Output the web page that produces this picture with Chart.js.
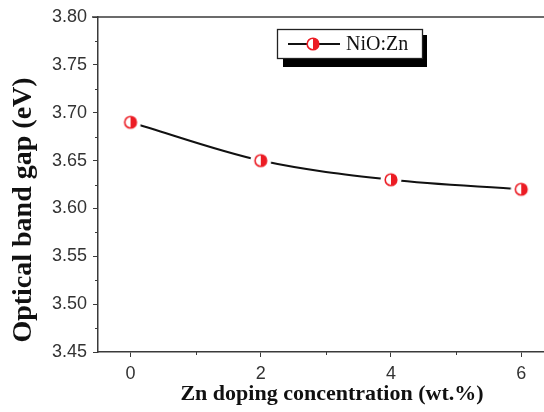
<!DOCTYPE html>
<html><head><meta charset="utf-8">
<script src="https://cdn.jsdelivr.net/npm/chart.js@4/dist/chart.umd.min.js"></script>
<style>html,body{margin:0;padding:0;background:#fff;overflow:hidden}canvas{display:block}</style>
</head><body>
<canvas id="c" width="544" height="412"></canvas>
<script>
const concentrations = [0, 2, 4, 6];
const bandGap = [3.69, 3.65, 3.63, 3.62];
const seriesLabel = 'NiO:Zn';
const xTicks = [0, 2, 4, 6];
const xMinorTicks = [1, 3, 5];
const yTicks = [3.45, 3.50, 3.55, 3.60, 3.65, 3.70, 3.75, 3.80];
const yMinorTicks = [3.475, 3.525, 3.575, 3.625, 3.675, 3.725, 3.775];
const xTitle = 'Zn doping concentration (wt.%)';
const yTitle = 'Optical band gap (eV)';

const RED = '#ec1c24';
const AXIS = '#3a3a3a';

function makeMarker(gap) {
  const s = gap ? 22 : 16;
  const c = document.createElement('canvas');
  c.width = s; c.height = s;
  const g = c.getContext('2d');
  const m = s / 2, r = 5.8;
  if (gap) { g.fillStyle = '#fff'; g.beginPath(); g.arc(m, m, 10.5, 0, Math.PI * 2); g.fill(); }
  g.fillStyle = '#fff'; g.beginPath(); g.arc(m, m, r, 0, Math.PI * 2); g.fill();
  g.fillStyle = RED; g.beginPath(); g.arc(m, m, r, -Math.PI / 2, Math.PI / 2); g.closePath(); g.fill();
  g.strokeStyle = RED; g.lineWidth = 1.6; g.beginPath(); g.arc(m, m, r, 0, Math.PI * 2); g.stroke();
  return c;
}
const markerGap = makeMarker(true);
const markerLegend = makeMarker(false);

const decor = {
  id: 'decor',
  afterDraw(chart) {
    const ctx = chart.ctx, a = chart.chartArea;
    const xs = chart.scales.x, ys = chart.scales.y;
    ctx.save();
    ctx.strokeStyle = AXIS; ctx.lineWidth = 1.5;
    ctx.beginPath(); ctx.moveTo(a.left - 6, a.top); ctx.lineTo(a.right, a.top); ctx.stroke();
    ctx.lineWidth = 1;
    yMinorTicks.forEach(v => {
      const y = Math.round(ys.getPixelForValue(v)) + 0.5;
      ctx.beginPath(); ctx.moveTo(a.left - 3, y); ctx.lineTo(a.left, y); ctx.stroke();
    });
    xMinorTicks.forEach(v => {
      const x = Math.round(xs.getPixelForValue(v)) + 0.5;
      ctx.beginPath(); ctx.moveTo(x, a.bottom); ctx.lineTo(x, a.bottom + 3); ctx.stroke();
    });
    ctx.fillStyle = '#111';
    ctx.font = 'bold 22px "Liberation Serif", "Times New Roman", serif';
    ctx.textAlign = 'center'; ctx.textBaseline = 'alphabetic';
    ctx.fillText(xTitle, 332, 400);
    ctx.save();
    ctx.translate(31, 210); ctx.rotate(-Math.PI / 2);
    ctx.font = 'bold 28px "Liberation Serif", "Times New Roman", serif';
    ctx.fillText(yTitle, 0, 0);
    ctx.restore();
    ctx.fillStyle = '#000';
    ctx.fillRect(283, 35, 144, 32);
    ctx.fillStyle = '#fff';
    ctx.fillRect(277, 29, 146, 30);
    ctx.strokeStyle = '#222'; ctx.lineWidth = 1.3;
    ctx.strokeRect(277.5, 29.5, 145, 29);
    ctx.strokeStyle = '#111'; ctx.lineWidth = 2;
    ctx.beginPath(); ctx.moveTo(288, 44); ctx.lineTo(340, 44); ctx.stroke();
    ctx.drawImage(markerLegend, 313 - 8, 44 - 8);
    ctx.fillStyle = '#111';
    ctx.font = '20px "Liberation Serif", "Times New Roman", serif';
    ctx.textAlign = 'left';
    ctx.fillText(chart.data.datasets[0].label, 346, 50);
    ctx.restore();
  }
};

new Chart(document.getElementById('c'), {
  type: 'line',
  data: {
    datasets: [{
      label: seriesLabel,
      data: concentrations.map((x, i) => ({ x: x, y: bandGap[i] })),
      borderColor: '#111',
      borderWidth: 2,
      cubicInterpolationMode: 'monotone',
      pointStyle: markerGap,
      pointRadius: 10,
      fill: false
    }]
  },
  options: {
    responsive: false,
    animation: false,
    events: [],
    layout: { autoPadding: false, padding: { top: 17, right: 0, left: 0, bottom: 0 } },
    plugins: { legend: { display: false }, tooltip: { enabled: false } },
    scales: {
      x: {
        type: 'linear',
        min: -0.5, max: 6.35,
        afterBuildTicks: s => { s.ticks = xTicks.map(v => ({ value: v })); },
        afterFit: s => { s.height = 60; s.paddingLeft = 0; s.paddingRight = 0; },
        border: { display: true, color: AXIS, width: 1.5 },
        grid: { drawOnChartArea: false, drawTicks: true, tickLength: 5, color: AXIS },
        ticks: { color: '#333', padding: 6, maxRotation: 0,
          font: { family: '"Liberation Sans", Arial, sans-serif', size: 18 },
          callback: v => String(v) }
      },
      y: {
        min: 3.45, max: 3.80,
        afterBuildTicks: s => { s.ticks = yTicks.map(v => ({ value: v })); },
        afterFit: s => { s.width = 98; s.paddingTop = 0; s.paddingBottom = 0; },
        border: { display: true, color: AXIS, width: 1.5 },
        grid: { drawOnChartArea: false, drawTicks: true, tickLength: 5, color: AXIS },
        ticks: { color: '#333', padding: 6,
          font: { family: '"Liberation Sans", Arial, sans-serif', size: 18 },
          callback: v => Number(v).toFixed(2) }
      }
    }
  },
  plugins: [decor]
});
</script>
</body></html>
